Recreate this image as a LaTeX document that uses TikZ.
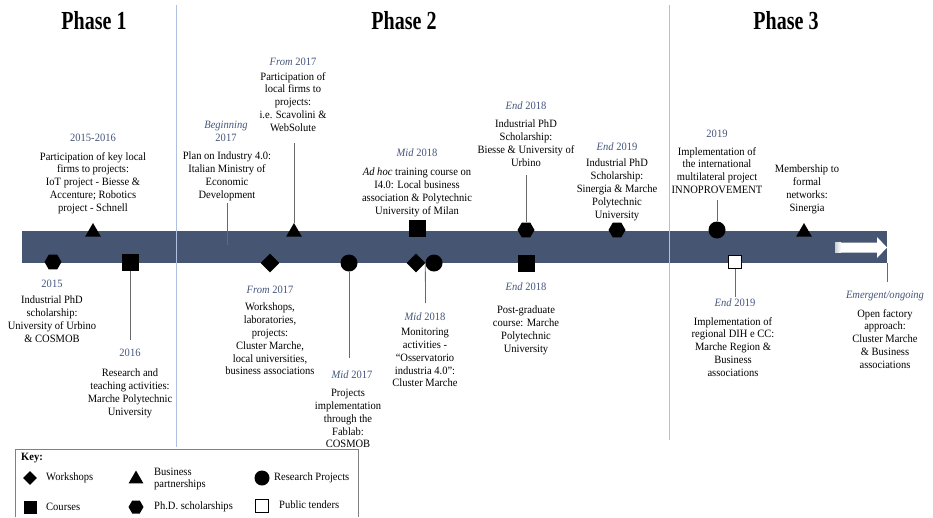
\documentclass[tikz,border=0pt]{standalone}
\usepackage{fontspec}
\setmainfont[FakeStretch=0.94]{Liberation Serif}
\newfontfamily\titlefont[FakeStretch=0.77]{Liberation Serif}
\usetikzlibrary{shapes.geometric}
\definecolor{barblue}{RGB}{70,86,114}
\definecolor{datecol}{RGB}{68,84,124}
\definecolor{phaseline}{RGB}{176,192,224}
\definecolor{keyline}{RGB}{128,128,128}
\definecolor{connline}{RGB}{105,105,105}

\begin{document}
\begin{tikzpicture}
	[
		x=1pt, y=-1pt,
		% Text blocks over and under the bar.
		txt/.style={align=center, inner sep=0pt, anchor=north, font=\fontsize{11.2}{12.8}\selectfont},
		% Dates, in blue-grey.
		datetxt/.style={txt, text=datecol},
		% Titles of the phases.
		phasetitle/.style={inner sep=0pt, font=\titlefont\fontsize{26}{30}\selectfont\bfseries},
		% Key entries.
		keytxt/.style={inner sep=0pt, anchor=west, align=left, font=\fontsize{11.2}{12}\selectfont},
		% Event symbols.
		tri/.style={regular polygon, regular polygon sides=3, fill=black, inner sep=0pt, minimum size=18pt},
		hexa/.style={regular polygon, regular polygon sides=6, fill=black, inner sep=0pt, minimum size=17pt},
		dia/.style={diamond, fill=black, inner sep=0pt, minimum size=19pt},
		sq/.style={rectangle, fill=black, inner sep=0pt, minimum size=17pt},
		circ/.style={circle, fill=black, inner sep=0pt, minimum size=17pt},
		opensq/.style={rectangle, draw=black, fill=white, line width=1.4pt, inner sep=0pt, minimum size=13pt},
		% Grey lines from a symbol to its text.
		conn/.style={draw=connline, line width=0.8pt}
	]
	\useasboundingbox (0,0) rectangle (933,517);

	% Phase dividers
	\draw[phaseline, line width=0.8pt] (176,5) -- (176,447);
	\draw[phaseline, line width=0.8pt] (669,5) -- (669,440);

	% Time bar
	\fill[barblue] (22,231) rectangle (887,263);
	\draw[phaseline, line width=0.5pt] (176,231) -- (176,263);
	\draw[phaseline, line width=0.5pt] (669,231) -- (669,263);
	\shade[left color=barblue!30, right color=white] (835,242.5) rectangle (841,252.5);
	\fill[white] (841,242.5) -- (877,242.5) -- (877,237) -- (887,247.5) -- (877,258) -- (877,252.5) -- (841,252.5) -- cycle;

	\node[phasetitle] (ph1) at (94,21) {Phase 1};
	\node[phasetitle] (ph2) at (404,21) {Phase 2};
	\node[phasetitle] (ph3) at (786,21) {Phase 3};

	% Phase 1
	\node[tri] (pkf) at (93,232) {};
	\node[datetxt] (pkfdate) at (93,134) {2015-2016};
	\node[txt] (pkftxt) at (93,152) {Participation of key local\\firms to projects:\\IoT project - Biesse \&\\Accenture; Robotics\\project - Schnell};

	\node[hexa] (phda) at (53,262) {};
	\node[datetxt] (phdadate) at (52,280) {2015};
	\node[txt] (phdatxt) at (52,296) {Industrial PhD\\scholarship:\\University of Urbino\\\& COSMOB};

	\node[sq] (rta) at (130,262) {};
	\coordinate (rtaend) at (130,340);
	\node[datetxt] (rtadate) at (130,349) {2016};
	\node[txt] (rtatxt) at (130,369) {Research and\\teaching activities:\\Marche Polytechnic\\University};
	\draw[conn] (rta) -- (rtaend);

	% Phase 2
	\node[datetxt] (plandate) at (226,121) {\textit{Beginning}\\2017};
	\node[txt] (plantxt) at (227,152) {Plan on Industry 4.0:\\Italian Ministry of\\Economic\\Development};
	\coordinate (plantop) at (227,203);
	\coordinate (planbar) at (227,245);
	\draw[conn] (plantop) -- (planbar);

	\node[tri] (lfp) at (294,232) {};
	\node[datetxt] (lfpdate) at (293,58) {\textit{From} 2017};
	\node[txt] (lfptxt) at (293,72) {Participation of\\local firms to\\projects:\\i.e. Scavolini \&\\WebSolute};
	\coordinate (lfptop) at (294,143);
	\draw[conn] (lfptop) -- (lfp);

	\node[dia] (wlp) at (270,263) {};
	\node[datetxt] (wlpdate) at (270,286) {\textit{From} 2017};
	\node[txt] (wlptxt) at (270,303) {Workshops,\\laboratories,\\projects:\\Cluster Marche,\\local universities,\\business associations};

	\node[circ] (fab) at (349,263) {};
	\coordinate (fabend) at (349,358);
	\node[datetxt] (fabdate) at (352,371) {\textit{Mid} 2017};
	\node[txt] (fabtxt) at (348,389) {Projects\\implementation\\through the\\Fablab:\\COSMOB};
	\draw[conn] (fab) -- (fabend);

	\node[sq] (adh) at (417,228) {};
	\node[datetxt] (adhdate) at (417,149) {\textit{Mid} 2018};
	\node[txt] (adhtxt) at (417,168) {\textit{Ad hoc} training course on\\I4.0: Local business\\association \& Polytechnic\\University of Milan};

	\node[dia] (monw) at (416,263) {};
	\node[circ] (monr) at (434,263) {};
	\coordinate (monend) at (425.5,303);
	\draw[conn] (monr.west) -- (monend);
	\node[datetxt] (mondate) at (425,313) {\textit{Mid} 2018};
	\node[txt] (montxt) at (425,328) {Monitoring\\activities -\\“Osservatorio\\industria 4.0”:\\Cluster Marche};

	\node[hexa] (phdb) at (526,230) {};
	\coordinate (phdbtop) at (526,175);
	\draw[conn] (phdbtop) -- (phdb);
	\node[datetxt] (phdbdate) at (526,102) {\textit{End} 2018};
	\node[txt] (phdbtxt) at (526,120) {Industrial PhD\\Scholarship:\\Biesse \& University of\\Urbino};

	\node[sq] (pgc) at (526,263) {};
	\node[datetxt] (pgcdate) at (526,283) {\textit{End} 2018};
	\node[txt] (pgctxt) at (526,306) {Post-graduate\\course: Marche\\Polytechnic\\University};

	\node[hexa] (phdc) at (617,230) {};
	\node[datetxt] (phdcdate) at (617,143) {\textit{End} 2019};
	\node[txt] (phdctxt) at (617,159) {Industrial PhD\\Scholarship:\\Sinergia \& Marche\\Polytechnic\\University};

	% Phase 3
	\node[circ] (inno) at (717,230) {};
	\coordinate (innotop) at (717,200);
	\draw[conn] (innotop) -- (inno);
	\node[datetxt] (innodate) at (717,130) {2019};
	\node[txt] (innotxt) at (717,147) {Implementation of\\the international\\multilateral project\\INNOPROVEMENT};

	\node[tri] (mem) at (804,232) {};
	\node[txt] (memtxt) at (807,165) {Membership to\\formal\\networks:\\Sinergia};

	\node[opensq] (dih) at (735,262) {};
	\coordinate (dihend) at (735,297);
	\draw[conn] (dih) -- (dihend);
	\node[datetxt] (dihdate) at (735,299) {\textit{End} 2019};
	\node[txt] (dihtxt) at (733,317) {Implementation of\\regional DIH e CC:\\Marche Region \&\\Business\\associations};

	\coordinate (barend) at (887,263);
	\coordinate (openend) at (887,282);
	\draw[conn] (barend) -- (openend);
	\node[datetxt] (opendate) at (885,291) {\textit{Emergent/ongoing}};
	\node[txt] (opentxt) at (885,309) {Open factory\\approach:\\Cluster Marche\\\& Business\\associations};

	% Key
	\draw[keyline, line width=0.8pt] (15,517) -- (15,449) -- (358,449) -- (358,517);
	\node[keytxt, font=\fontsize{11.2}{12}\selectfont\bfseries] (keyhead) at (21,458) {Key:};
	\node[dia, minimum size=14pt] (kdia) at (30,478) {};
	\node[keytxt] (kdiatxt) at (46,478) {Workshops};
	\node[tri, minimum size=17pt] (ktri) at (136,479) {};
	\node[keytxt] (ktritxt) at (154,479) {Business\\partnerships};
	\node[circ, minimum size=15pt] (kcirc) at (262,478) {};
	\node[keytxt] (kcirctxt) at (274,478) {Research Projects};
	\node[sq, minimum size=13pt] (ksq) at (30,507) {};
	\node[keytxt] (ksqtxt) at (46,507) {Courses};
	\node[hexa, minimum size=15pt] (khexa) at (136,507) {};
	\node[keytxt] (khexatxt) at (154,507) {Ph.D. scholarships};
	\node[opensq] (kopen) at (262,506) {};
	\node[keytxt] (kopentxt) at (279,505) {Public tenders};
\end{tikzpicture}
\end{document}
